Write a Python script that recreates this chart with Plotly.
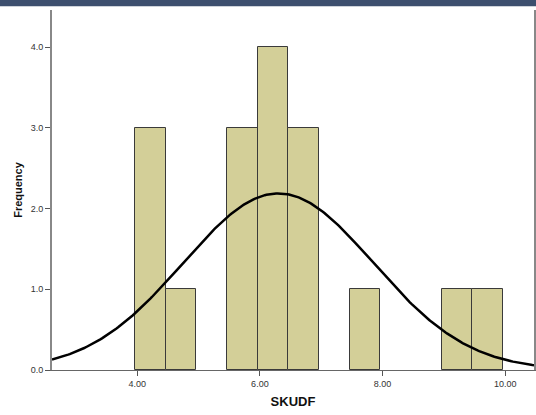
import numpy as np
import plotly.graph_objects as go

# Histogram bins (left edge, count) for SKUDF
bin_left = [3.965, 4.465, 5.465, 5.965, 6.465, 7.465, 8.965, 9.465]
counts = [3, 1, 3, 4, 3, 1, 1, 1]
bin_width = 0.5

# Fitted normal curve parameters
mean_val = 6.30
sd_val = 1.55
n_total = 17

x_ticks = [4.0, 6.0, 8.0, 10.0]
x_tick_labels = ["4.00", "6.00", "8.00", "10.00"]
y_ticks = [0.0, 1.0, 2.0, 3.0, 4.0]
y_tick_labels = ["0.0", "1.0", "2.0", "3.0", "4.0"]

x_range = [2.61, 10.47]
y_range = [0, 4.46]

centers = [b + bin_width / 2 for b in bin_left]

fig = go.Figure()
fig.add_trace(go.Bar(
    x=centers, y=counts, width=bin_width,
    marker=dict(color="#D3CF98", line=dict(color="#3a3a3a", width=1)),
    showlegend=False, hoverinfo="skip",
))

xs = np.linspace(x_range[0], x_range[1], 300)
ys = n_total * bin_width / (sd_val * np.sqrt(2 * np.pi)) * np.exp(-0.5 * ((xs - mean_val) / sd_val) ** 2)
fig.add_trace(go.Scatter(
    x=xs, y=ys, mode="lines", line=dict(color="black", width=2.5),
    showlegend=False, hoverinfo="skip",
))

fig.update_layout(
    width=536, height=415,
    margin=dict(l=52, r=0, t=10, b=45),
    paper_bgcolor="white", plot_bgcolor="white",
    font=dict(family="Liberation Sans, Arial, sans-serif", color="#333333"),
    bargap=0,
    xaxis=dict(
        range=x_range, tickvals=x_ticks, ticktext=x_tick_labels,
        ticks="outside", ticklen=5, tickcolor="#555", tickfont=dict(size=9, color="#333"),
        showgrid=False, zeroline=False, showline=True, linecolor="#666", linewidth=1,
        title=dict(text="<b>SKUDF</b>", font=dict(size=13, color="#111"), standoff=9),
    ),
    yaxis=dict(
        range=y_range, tickvals=y_ticks, ticktext=y_tick_labels,
        ticks="outside", ticklen=5, tickcolor="#555", tickfont=dict(size=9, color="#333"),
        showgrid=False, zeroline=False, showline=True, linecolor="#888", linewidth=2,
        mirror=True,
        title=dict(text="<b>Frequency</b>", font=dict(size=11, color="#111"), standoff=6),
    ),
    shapes=[
        dict(type="rect", xref="paper", yref="paper", x0=-0.15, x1=1.05, y0=1.0 + 3.8 / 360, y1=1.0 + 14 / 360,
             fillcolor="#3D4F6E", line=dict(width=0), layer="below"),
    ],
)

fig.write_html(
    "out.html",
    config={"displayModeBar": False},
    post_script=(
        "document.body.style.margin='0';document.body.style.padding='0';"
        "document.body.style.overflow='hidden';document.documentElement.style.overflow='hidden';"
    ),
)
